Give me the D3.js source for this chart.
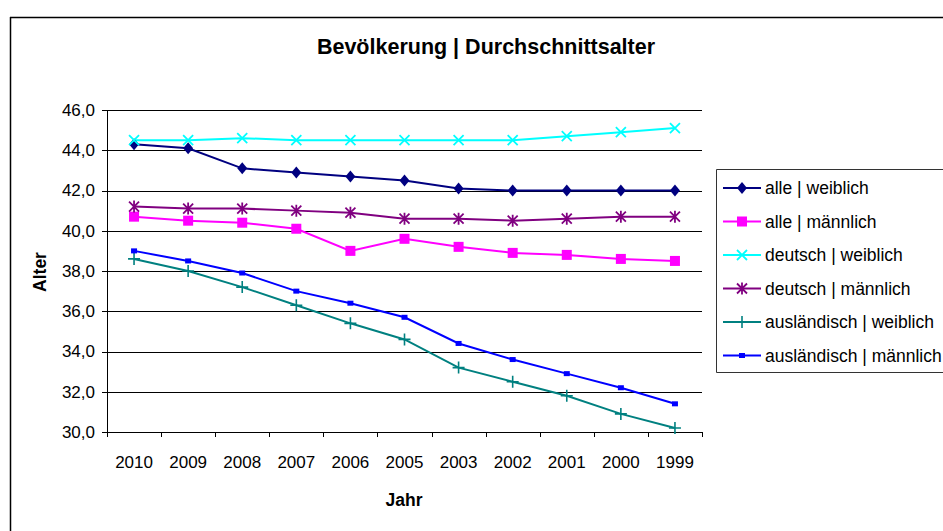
<!DOCTYPE html>
<html>
<head>
<meta charset="utf-8">
<script src="https://cdn.jsdelivr.net/npm/d3@7"></script>
<style>
  html, body { margin: 0; background: #fff; overflow: hidden; }
  svg { display: block; }
  text { font-family: "Liberation Sans", Arial, sans-serif; }
</style>
</head>
<body>
<script>
'use strict';

// chart data
const years = ['2010', '2009', '2008', '2007', '2006', '2005', '2003', '2002', '2001', '2000', '1999'];
const alleWeiblich = [44.3, 44.1, 43.1, 42.9, 42.7, 42.5, 42.1, 42.0, 42.0, 42.0, 42.0];
const alleMaennlich = [40.7, 40.5, 40.4, 40.1, 39.0, 39.6, 39.2, 38.9, 38.8, 38.6, 38.5];
const deutschWeiblich = [44.5, 44.5, 44.6, 44.5, 44.5, 44.5, 44.5, 44.5, 44.7, 44.9, 45.1];
const deutschMaennlich = [41.2, 41.1, 41.1, 41.0, 40.9, 40.6, 40.6, 40.5, 40.6, 40.7, 40.7];
const auslWeiblich = [38.6, 38.0, 37.2, 36.3, 35.4, 34.6, 33.2, 32.5, 31.8, 30.9, 30.2];
const auslMaennlich = [39.0, 38.5, 37.9, 37.0, 36.4, 35.7, 34.4, 33.6, 32.9, 32.2, 31.4];
const yTicks = [30, 32, 34, 36, 38, 40, 42, 44, 46];

(function() {

const series = [
  { name: 'alle | weiblich', values: alleWeiblich, color: '#000080', marker: 'diamond' },
  { name: 'alle | männlich', values: alleMaennlich, color: '#FF00FF', marker: 'square' },
  { name: 'deutsch | weiblich', values: deutschWeiblich, color: '#00FFFF', marker: 'cross' },
  { name: 'deutsch | männlich', values: deutschMaennlich, color: '#800080', marker: 'star' },
  { name: 'ausländisch | weiblich', values: auslWeiblich, color: '#008080', marker: 'plus' },
  { name: 'ausländisch | männlich', values: auslMaennlich, color: '#0000FF', marker: 'dash' }
];

const W = 943, H = 531;
const svg = d3.select('body').append('svg')
  .attr('width', W)
  .attr('height', H)
  .style('overflow', 'hidden');

// chart frame: only top and left edges are inside the picture
svg.append('line')
  .attr('x1', 10.5).attr('x2', 10.5).attr('y1', 17).attr('y2', H)
  .attr('stroke', '#000').attr('stroke-width', 1.5);
svg.append('line')
  .attr('x1', 10).attr('x2', W).attr('y1', 17.5).attr('y2', 17.5)
  .attr('stroke', '#000').attr('stroke-width', 1.5);

const pLeft = 107, pRight = 702, pTop = 110, pBottom = 432;

const x = d3.scaleBand().domain(years).range([pLeft, pRight]);
const xEdge = d3.scaleLinear().domain([0, years.length]).range([pLeft, pRight]);
const y = d3.scaleLinear().domain([30, 46]).range([pBottom, pTop]);

// gridlines + y axis labels
const yAxis = svg.append('g')
  .attr('transform', `translate(${pLeft},0)`)
  .call(d3.axisLeft(y).tickValues(yTicks).tickSizeInner(-(pRight - pLeft)).tickSizeOuter(0)
    .tickFormat(d => d3.format('.1f')(d).replace('.', ',')));
yAxis.select('.domain').remove();
yAxis.selectAll('.tick line').attr('stroke', '#000').attr('shape-rendering', 'crispEdges');
yAxis.selectAll('.tick text')
  .attr('x', -12)
  .style('font-size', '17px')
  .attr('fill', '#000');

// little ticks on the left of the y axis
svg.append('g')
  .attr('transform', `translate(${pLeft},0)`)
  .call(d3.axisLeft(y).tickValues(yTicks).tickSize(5).tickFormat(''))
  .call(g => g.selectAll('line, path').attr('stroke', '#000').attr('shape-rendering', 'crispEdges'));

// x axis: boundary ticks and labels
svg.append('g')
  .attr('transform', `translate(0,${pBottom})`)
  .call(d3.axisBottom(xEdge).tickValues(d3.range(years.length + 1)).tickSize(5).tickFormat(''))
  .call(g => g.selectAll('line, path').attr('stroke', '#000').attr('shape-rendering', 'crispEdges'));

const xLabels = svg.append('g')
  .attr('transform', `translate(0,${pBottom})`)
  .call(d3.axisBottom(x).tickSize(0).tickPadding(24));
xLabels.select('.domain').remove();
xLabels.selectAll('text').style('font-size', '17px').attr('fill', '#000');

// titles
svg.append('text')
  .attr('x', 486).attr('y', 54)
  .attr('text-anchor', 'middle')
  .style('font-size', '21.5px')
  .style('font-weight', 'bold')
  .text('Bevölkerung | Durchschnittsalter');

svg.append('text')
  .attr('x', 404).attr('y', 506)
  .attr('text-anchor', 'middle')
  .style('font-size', '17.5px')
  .style('font-weight', 'bold')
  .text('Jahr');

svg.append('text')
  .attr('transform', 'translate(46,272)rotate(-90)')
  .attr('text-anchor', 'middle')
  .style('font-size', '17.5px')
  .style('font-weight', 'bold')
  .text('Alter');

// marker drawing
function drawMarker(g, type, color) {
  if (type === 'diamond') {
    g.append('path').attr('d', 'M0,-6L5,0L0,6L-5,0Z').attr('fill', color);
  } else if (type === 'square') {
    g.append('rect').attr('x', -5).attr('y', -5).attr('width', 10).attr('height', 10).attr('fill', color);
  } else if (type === 'cross') {
    g.append('path').attr('d', 'M-5,-5L5,5M-5,5L5,-5').attr('stroke', color).attr('stroke-width', 1.8);
  } else if (type === 'star') {
    g.append('path').attr('d', 'M-5,-5L5,5M-5,5L5,-5M0,-6L0,6').attr('stroke', color).attr('stroke-width', 1.8);
  } else if (type === 'plus') {
    g.append('path').attr('d', 'M-6,0L6,0M0,-6L0,6').attr('stroke', color).attr('stroke-width', 1.6);
  } else if (type === 'dash') {
    g.append('rect').attr('x', -3).attr('y', -2.5).attr('width', 6).attr('height', 5).attr('fill', color);
  }
}

const line = d3.line()
  .x((d, i) => x(years[i]) + x.bandwidth() / 2)
  .y(d => y(d));

series.forEach(s => {
  svg.append('path')
    .datum(s.values)
    .attr('fill', 'none')
    .attr('stroke', s.color)
    .attr('stroke-width', 2)
    .attr('d', line);
});

series.forEach(s => {
  s.values.forEach((v, i) => {
    const g = svg.append('g')
      .attr('transform', `translate(${x(years[i]) + x.bandwidth() / 2},${y(v)})`);
    drawMarker(g, s.marker, s.color);
  });
});

// y axis line
svg.append('line')
  .attr('x1', pLeft + 0.5).attr('x2', pLeft + 0.5)
  .attr('y1', pTop).attr('y2', pBottom)
  .attr('stroke', '#000');

// legend: box runs past the right edge of the picture
const legend = svg.append('g');
legend.append('path')
  .attr('d', `M${W},169.5H716.5V372.5H${W}`)
  .attr('fill', 'none')
  .attr('stroke', '#333');

series.forEach((s, i) => {
  const ly = 188 + i * 33.5;
  legend.append('line')
    .attr('x1', 723).attr('x2', 761)
    .attr('y1', ly).attr('y2', ly)
    .attr('stroke', s.color).attr('stroke-width', 2);
  drawMarker(legend.append('g').attr('transform', `translate(742,${ly})`), s.marker, s.color);
  legend.append('text')
    .attr('x', 765).attr('y', ly + 6)
    .style('font-size', '17.5px')
    .text(s.name);
});

})();
</script>
</body>
</html>
